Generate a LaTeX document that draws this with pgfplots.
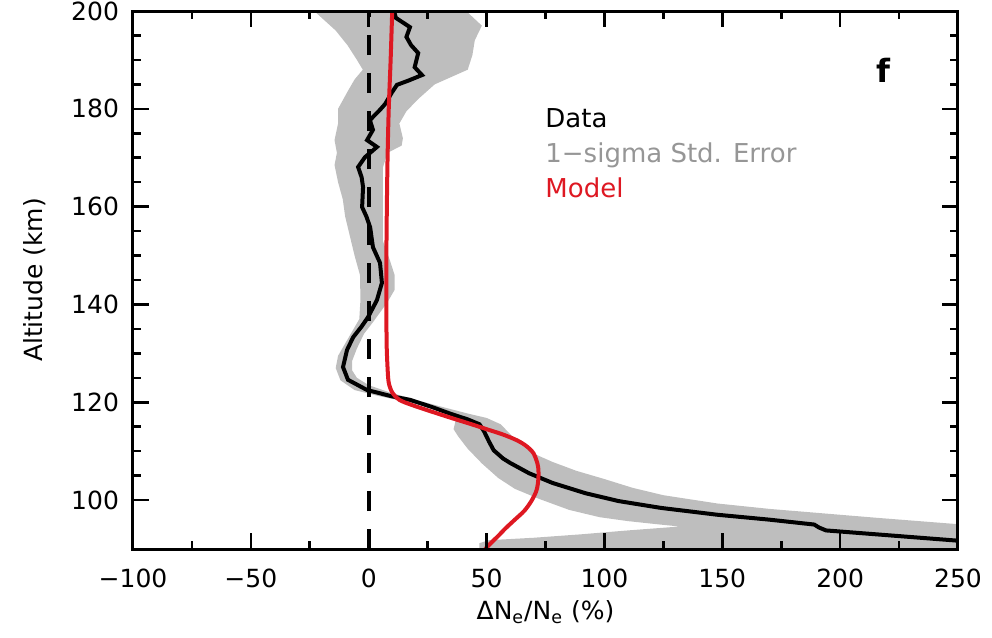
\documentclass[border=0pt]{standalone}
\usepackage{fontspec}
\setmainfont{DejaVu Sans}
\usepackage{pgfplots}
\pgfplotsset{compat=1.18}
\definecolor{modelred}{RGB}{222,24,34}
\definecolor{bandgray}{RGB}{190,190,190}
\definecolor{txtgray}{RGB}{150,150,150}
\begin{document}
\begin{tikzpicture}
\useasboundingbox (-66.5pt,-44.5pt) rectangle (429.5pt,274.5pt);
\begin{axis}[
  scale only axis, width=412.5pt, height=269pt,
  xmin=-100, xmax=250, ymin=90, ymax=200,
  xtick={-100,-50,0,50,100,150,200,250},
  xticklabels={−100,−50,0,50,100,150,200,250},
  ytick={100,120,140,160,180,200},
  yticklabels={100,120,140,160,180,200},
  minor x tick num=1, minor y tick num=3,
  tick align=inside,
  major tick length=8pt, minor tick length=4pt,
  tick style={black, line width=1.3pt},
  axis line style={line width=1.5pt},
  axis on top,
  tick label style={font=\fontsize{12.5}{15}\selectfont},
  xticklabel style={yshift=-6.5pt},
  yticklabel style={xshift=-3.5pt},
  xlabel={ΔN\textsubscript{e}/N\textsubscript{e} (\%)},
  ylabel={Altitude (km)},
  label style={font=\fontsize{12.5}{15}\selectfont},
  xlabel style={at={(axis description cs:0.5,-0.117)}, anchor=center},
  ylabel style={at={(axis description cs:-0.1188,0.5)}, anchor=center},
]
% 1-sigma band
\addplot[fill=bandgray, draw=none] coordinates {
(-24,200.6) (40,200.6) (48,197) (45,194) (44,191) (42,188) (35,186.5) (28,185)
(21,182) (16,179.5) (13,177) (14.5,174) (14,172.5) (8,171) (6,168) (6,160)
(6,153) (9,149) (11,146) (11,143) (8,140.5) (5,138.5) (2,136.5) (-2,134)
(-5,131) (-7,128.5) (-7,126.5) (-5,125) (0,123.5) (9,122) (20,120.5)
(30,119.2) (42,117.7) (50,116.8) (56,115.5) (60,113.5) (64,111.5) (70,109.5)
(78,107.8) (88,106) (100,104.3) (112,102.5) (125,101) (148,99.3) (170,98.2)
(190,97.4) (215,96.4) (252,95)
(252,89.5) (47,89.5) (47,91.2) (51,91.8) (70,92.3) (90,93) (110,93.8) (132,94.6)
(123.6,95.0) (110,95.7) (98,96.5) (85,98) (72,100.3) (62,102.3) (55,104.5)
(48,107.5) (42,110.5) (38,113) (36,114.5) (37,116.5) (32,118) (24,119.3)
(14,120.3) (4,121.3) (-6,122.5) (-12,124.5) (-14,127) (-13,129.5) (-10,132)
(-7,134.5) (-4,137) (-3.5,141) (-3.7,146) (-6,150) (-8,154) (-10,158)
(-11,161.5) (-13,165) (-14.5,168.5) (-13.5,171) (-14.5,173.6) (-13,177)
(-13,180) (-9,183.5) (-6,186) (-2.5,188) (-5,190) (-9,193) (-14,196) (-22,199.5)
} -- cycle;
% zero line
\addplot[black, line width=2pt, dash pattern=on 10pt off 9pt] coordinates {(0,90) (0,200)};
% data
\addplot[black, line width=2pt] coordinates {
(10.5,200.5) (11.5,198.6) (17.5,196.7) (16,194.7) (18,193) (21,191.4) (19.5,188.5)
(22.6,186.9) (17,185.8) (12,184.9) (9.9,183.4) (7,181) (4.8,179.8) (0.5,177.7)
(1.8,175.7) (-0.7,173.6) (3.5,172.2) (-1.6,170.1) (-4.5,168.1) (-3,166)
(-2.4,164) (-2.8,159.9) (-1,158) (0.6,155.8) (1.8,151.7) (4.8,148.5)
(5.6,144.4) (3.5,140.9) (-0.3,137.4) (-3,135.5) (-6.6,133.3) (-9.2,130.7)
(-10.9,127.2) (-8.8,124.6) (-0.7,122.5) (10,121.2) (17.5,120.5) (27,119)
(35,117.6) (42,116.5) (47,115.5) (49,114) (51,112) (53,110.2) (57,108.5)
(60,107.6) (68,105.5) (78,103.5) (92,101.4) (106,99.8) (124,98.4) (148,97)
(170,96) (189,95) (191,94.4) (194,93.8) (218,92.9) (250,91.7) (252,91.6)
};
% model
\addplot[modelred, line width=2pt, smooth] coordinates {
(10,200.5) (9.3,190) (8.5,180) (8,170) (7.7,160) (7.5,150) (7.5,140) (7.6,132)
(8,127) (8.5,124) (10,122) (13,120.5) (18,119.5) (26,118.2) (35,116.8)
(43,115.6) (50,114.5) (57,113.4) (63,112.2) (67,111) (70,109.5) (71.8,107)
(72,104.5) (71.2,102) (69,99.8) (66,97.8) (62,96) (58,94.2) (55,92.7)
(52,91.3) (49.5,90) (49,89.5)
};
\node[anchor=base west, inner sep=0pt, font=\fontsize{13}{15}\selectfont] at (axis cs:74.8,176.1) {Data};
\node[anchor=base west, inner sep=0pt, text=txtgray, font=\fontsize{13}{15}\selectfont] at (axis cs:74.8,169.1) {1−sigma Std. Error};
\node[anchor=base west, inner sep=0pt, text=modelred, font=\fontsize{13}{15}\selectfont] at (axis cs:74.8,161.8) {Model};
\node[anchor=center, font=\bfseries\fontsize{16}{18}\selectfont] at (axis cs:218.2,187.9) {f};
\end{axis}
\end{tikzpicture}
\end{document}
